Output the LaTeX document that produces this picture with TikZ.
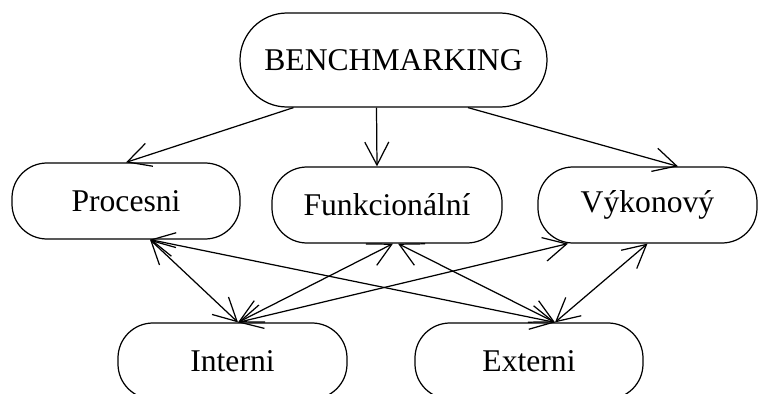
\documentclass[tikz,border=0pt]{standalone}
\usepackage{fontspec}
\setmainfont{Liberation Serif}
\usetikzlibrary{arrows.meta}

\begin{document}
\begin{tikzpicture}[>={Straight Barb[length=4.6mm,width=4.8mm]},oval/.style={draw,line width=0.7pt,rounded corners=0.7cm,minimum width=4.56cm,minimum height=1.52cm,inner sep=0pt,font=\fontsize{18}{21}\selectfont},link/.style={line width=0.7pt}]
\useasboundingbox (0,0) rectangle (15.2,-7.88);
\node[oval,rounded corners=0.94cm,minimum width=6.14cm,minimum height=1.88cm] (bm) at (7.87,-1.20) {BENCHMARKING\hspace{0.3cm}};
\node[oval] (pr) at (2.52,-4.02) {Procesni};
\node[oval,minimum width=4.6cm] (fu) at (7.74,-4.10) {Funkcionální};
\node[oval,minimum width=4.38cm] (vy) at (12.95,-4.10) {Výkonový};
\node[oval,minimum width=4.58cm] (int) at (4.65,-7.22) {Interni};
\node[oval] (ext) at (10.58,-7.22) {Externi};
\draw[link,->] ([xshift=-2cm]bm.south)--(pr.north);
\draw[link,->] ([xshift=-0.34cm]bm.south)--([xshift=-0.2cm]fu.north);
\draw[link,->] ([xshift=1.49cm]bm.south)--([xshift=0.61cm]vy.north);
\draw[link,<->] ([xshift=0.48cm]pr.south)--([xshift=0.11cm]int.north);
\draw[link,<->] ([xshift=0.48cm]pr.south)--([xshift=0.52cm]ext.north);
\draw[link,<->] ([xshift=0.12cm]fu.south)--([xshift=0.11cm]int.north);
\draw[link,<->] ([xshift=0.22cm]fu.south)--([xshift=0.52cm]ext.north);
\draw[link,<->] ([xshift=-1.59cm]vy.south)--([xshift=0.11cm]int.north);
\draw[link,<->] (vy.south)--([xshift=0.52cm]ext.north);
\end{tikzpicture}
\end{document}
